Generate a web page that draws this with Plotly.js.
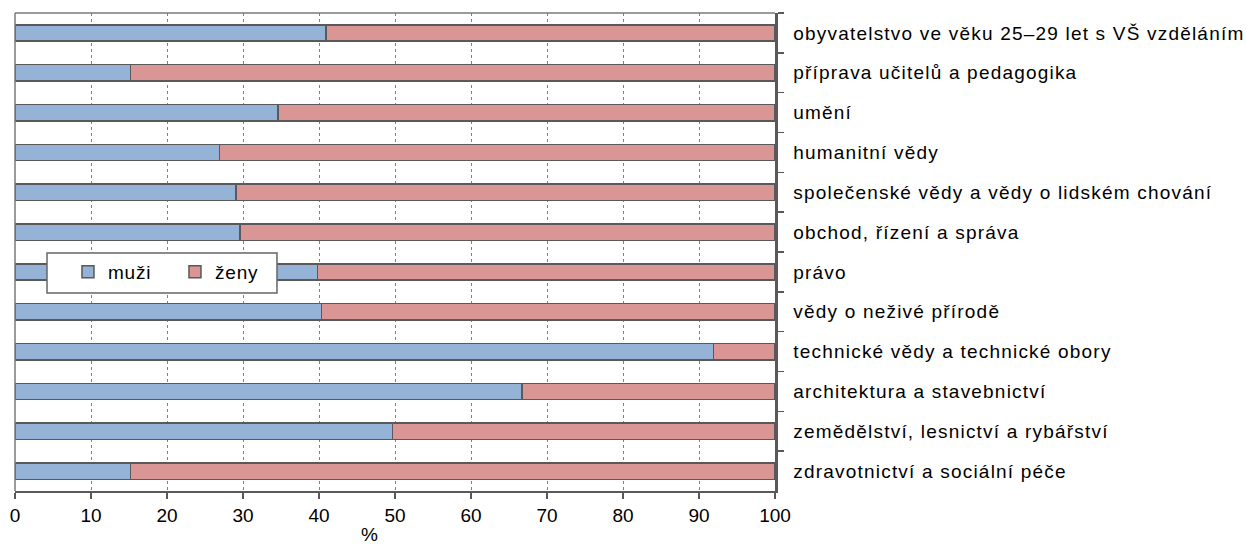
<!DOCTYPE html>
<html>
<head>
<meta charset="utf-8">
<script src="https://cdn.plot.ly/plotly-3.0.1.min.js"></script>
<style>
html,body{margin:0;padding:0;background:#fff;}
#chart{width:1246px;height:545px;}
#chart .ytick text{letter-spacing:1.2px;}
#chart .legendtext{letter-spacing:0.8px;}
</style>
</head>
<body>
<div id="chart"></div>
<script>
var categories = [
  "obyvatelstvo ve věku 25–29 let s VŠ vzděláním",
  "příprava učitelů a pedagogika",
  "umění",
  "humanitní vědy",
  "společenské vědy a vědy o lidském chování",
  "obchod, řízení a správa",
  "právo",
  "vědy o neživé přírodě",
  "technické vědy a technické obory",
  "architektura a stavebnictví",
  "zemědělství, lesnictví a rybářství",
  "zdravotnictví a sociální péče"
];
var muzi = [40.9, 15.2, 34.6, 26.9, 29.1, 29.6, 39.8, 40.3, 91.9, 66.7, 49.7, 15.2];
var zeny = [59.1, 84.8, 65.4, 73.1, 70.9, 70.4, 60.2, 59.7, 8.1, 33.3, 50.3, 84.8];
var xTicks = [0, 10, 20, 30, 40, 50, 60, 70, 80, 90, 100];

var font = "Liberation Sans, Arial, sans-serif";
var edge = {color: "#595959", width: 1.5};

var traces = [
  {type: "bar", orientation: "h", name: "muži", y: categories, x: muzi,
   marker: {color: "#95B3D7", line: edge}, hoverinfo: "x+y"},
  {type: "bar", orientation: "h", name: "ženy", y: categories, x: zeny,
   marker: {color: "#D99694", line: edge}, hoverinfo: "x+y"}
];

var layout = {
  width: 1246, height: 545,
  margin: {l: 15, r: 471, t: 13, b: 54},
  paper_bgcolor: "#fff", plot_bgcolor: "#fff",
  barmode: "stack", bargap: 0.59,
  font: {family: font, size: 19, color: "#000"},
  showlegend: true,
  legend: {
    orientation: "h", x: 0.0697, y: 0.498, xanchor: "left", yanchor: "top",
    bgcolor: "rgba(0,0,0,0)", borderwidth: 0,
    font: {family: font, size: 19, color: "#000"},
    entrywidth: 62, traceorder: "normal"
  },
  xaxis: {
    range: [0, 100], tickvals: xTicks, ticktext: xTicks.map(String),
    showgrid: true, gridcolor: "#808080", griddash: "dot", gridwidth: 1,
    zeroline: false,
    showline: true, linecolor: "#595959", linewidth: 2,
    ticks: "outside", ticklen: 6, tickwidth: 1.5, tickcolor: "#595959",
    tickfont: {family: font, size: 19, color: "#000"},
    fixedrange: true
  },
  yaxis: {
    type: "category", autorange: "reversed", side: "right",
    showgrid: false, zeroline: false,
    showline: true, linecolor: "#595959", linewidth: 2.5,
    ticks: "outside", tickson: "boundaries", ticklen: 6, tickwidth: 1.5, tickcolor: "#595959",
    ticklabelstandoff: 12,
    tickfont: {family: font, size: 19, color: "#000"},
    fixedrange: true
  },
  shapes: [
    {type: "line", xref: "paper", yref: "paper", x0: 0, x1: 1, y0: 1, y1: 1,
     line: {color: "#7a7a7a", width: 1.5}},
    {type: "line", xref: "paper", yref: "paper", x0: 0, x1: 0, y0: 0, y1: 1,
     line: {color: "#7a7a7a", width: 1.5}},
    {type: "rect", xref: "paper", yref: "paper", x0: 0.0421, x1: 0.3447, y0: 0.4142, y1: 0.4979,
     fillcolor: "#fff", line: {color: "#666", width: 1.5}, layer: "above"}
  ],
  annotations: [
    {text: "%", xref: "paper", yref: "paper", x: 0.466, y: 0, yshift: -31,
     xanchor: "center", yanchor: "top", showarrow: false,
     font: {family: font, size: 19, color: "#000"}}
  ]
};

Plotly.newPlot("chart", traces, layout, {displayModeBar: false, staticPlot: true});
</script>
</body>
</html>
